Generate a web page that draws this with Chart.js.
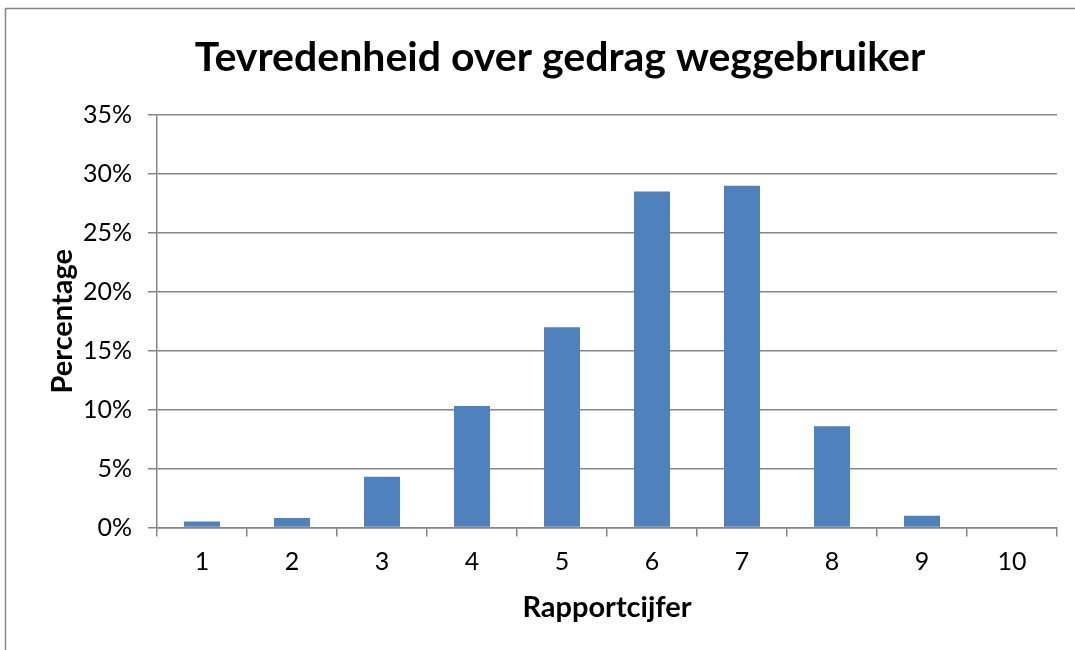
<!DOCTYPE html>
<html>
<head>
<meta charset="utf-8">
<script src="https://cdn.jsdelivr.net/npm/chart.js@4"></script>
<style>
  html, body { margin: 0; padding: 0; background: #fff; }
  #wrap { position: relative; width: 1075px; height: 650px; }
</style>
</head>
<body>
<div id="wrap"><canvas id="myChart" width="1075" height="650"></canvas></div>
<script>
const cijfers = ['1', '2', '3', '4', '5', '6', '7', '8', '9', '10']
const percentages = [0.5, 0.8, 4.3, 10.3, 17.0, 28.5, 29.0, 8.6, 1.0, 0]
const titel = 'Tevredenheid over gedrag weggebruiker'
const grijs = '#868686'
const lettertype = 'Lato, "Open Sans", sans-serif'

// titel + kader zelf tekenen, zodat de titel net als in Excel boven het midden staat
const kaderEnTitel = {
  id: 'kaderEnTitel',
  afterDraw(chart) {
    const ctx = chart.ctx
    ctx.save()
    ctx.strokeStyle = grijs
    ctx.lineWidth = 1.5
    ctx.beginPath()
    ctx.moveTo(5.5, 650)
    ctx.lineTo(5.5, 8.5)
    ctx.lineTo(1075, 8.5)
    ctx.stroke()
    ctx.fillStyle = '#000'
    ctx.font = `bold 41px ${lettertype}`
    ctx.textAlign = 'center'
    ctx.textBaseline = 'alphabetic'
    ctx.fillText(titel, 560, 71)
    ctx.restore()
  }
}

const ctx = document.getElementById('myChart')
new Chart(ctx, {
  type: 'bar',
  data: {
    labels: cijfers,
    datasets: [{
      label: 'Percentage',
      data: percentages,
      backgroundColor: '#4F81BD',
      borderWidth: 0,
      categoryPercentage: 1,
      barPercentage: 0.4
    }]
  },
  options: {
    responsive: false,
    animation: false,
    layout: { padding: { left: 0, right: 18, top: 115, bottom: 0 } },
    plugins: {
      legend: { display: false },
      tooltip: { enabled: false }
    },
    scales: {
      x: {
        afterFit: (scale) => { scale.height = 122.5 },
        grid: { display: true, drawOnChartArea: false, offset: true, tickLength: 9, color: grijs, lineWidth: 1.5 },
        border: { display: true, color: grijs, width: 1.5 },
        ticks: { color: '#000', font: { family: lettertype, size: 25 }, padding: 10 },
        title: { display: true, text: 'Rapportcijfer', color: '#000', font: { family: lettertype, size: 29, weight: 'bold' }, padding: { top: 0, bottom: 25 } }
      },
      y: {
        min: 0,
        max: 35,
        afterFit: (scale) => { scale.width = 157 },
        grid: { display: true, drawOnChartArea: true, tickLength: 9, color: grijs, lineWidth: 1.5 },
        border: { display: true, color: grijs, width: 1.5 },
        ticks: { stepSize: 5, color: '#000', font: { family: lettertype, size: 25 }, padding: 16, callback: (v) => v + '%' },
        title: { display: true, text: 'Percentage', color: '#000', font: { family: lettertype, size: 29, weight: 'bold' }, padding: { top: 45, bottom: 0 } }
      }
    }
  },
  plugins: [kaderEnTitel]
})
</script>
</body>
</html>
